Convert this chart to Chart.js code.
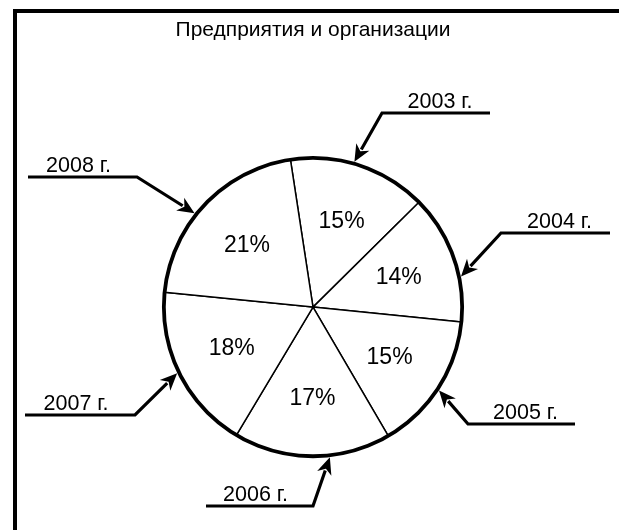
<!DOCTYPE html>
<html>
<head>
<meta charset="utf-8">
<script src="https://cdn.jsdelivr.net/npm/chart.js@4/dist/chart.umd.min.js"></script>
<style>
  html, body { margin: 0; padding: 0; background: #fff; }
  #wrap { width: 619px; height: 530px; position: relative; }
</style>
</head>
<body>
<div id="wrap"><canvas id="pie"></canvas></div>
<script>
// data
const years = ['2003 г.', '2004 г.', '2005 г.', '2006 г.', '2007 г.', '2008 г.'];
const shares = [15, 14, 15, 17, 18, 21];
const chartTitle = 'Предприятия и организации';

// callout placement (tip angle on the circle, elbow, far end of underline)
const callouts = [
    { angle: 15.9,  elbow: [382, 113], end: [490, 113] },
    { angle: 78.3,  elbow: [501, 233], end: [610, 233] },
    { angle: 123.5, elbow: [468, 424], end: [575, 424] },
    { angle: 173.6, elbow: [313, 506], end: [206, 506] },
    { angle: 244,   elbow: [135, 415], end: [25, 415] },
    { angle: 308.4, elbow: [137, 177], end: [28, 177] }
];

const FONT = '"Liberation Sans", Arial, sans-serif';

// white page with the thick frame on the left and top
const framePlugin = {
    id: 'frame',
    beforeDraw(chart) {
        const ctx = chart.ctx;
        ctx.save();
        ctx.fillStyle = '#fff';
        ctx.fillRect(0, 0, chart.width, chart.height);
        ctx.fillStyle = '#000';
        ctx.fillRect(13, 9, 4, chart.height - 9);
        ctx.fillRect(13, 9, chart.width - 13, 4);
        ctx.restore();
    }
};

// thick rim, percent labels and arrow callouts
const decorPlugin = {
    id: 'decor',
    afterDatasetsDraw(chart) {
        const ctx = chart.ctx;
        const arcs = chart.getDatasetMeta(0).data;
        const cx = arcs[0].x, cy = arcs[0].y, r = arcs[0].outerRadius;

        ctx.save();
        ctx.strokeStyle = '#000';
        ctx.lineWidth = 3.8;
        ctx.beginPath();
        ctx.arc(cx, cy, r, 0, Math.PI * 2);
        ctx.stroke();

        // percent labels
        ctx.fillStyle = '#000';
        ctx.font = '23px ' + FONT;
        ctx.textAlign = 'center';
        ctx.textBaseline = 'middle';
        arcs.forEach((arc, i) => {
            const mid = (arc.startAngle + arc.endAngle) / 2;
            const lr = r * 0.61;
            ctx.fillText(shares[i] + '%', cx + Math.cos(mid) * lr, cy + Math.sin(mid) * lr + 1);
        });

        // callouts
        ctx.font = '21.5px ' + FONT;
        ctx.textBaseline = 'alphabetic';
        callouts.forEach((c, i) => {
            const a = (c.angle - 90) * Math.PI / 180;
            const tr = r + 2;
            const tx = cx + Math.cos(a) * tr, ty = cy + Math.sin(a) * tr;
            const [ex, ey] = c.elbow;
            const dir = Math.atan2(ty - ey, tx - ex);
            const headLen = 17, headW = 7.5;
            const bx = tx - Math.cos(dir) * headLen, by = ty - Math.sin(dir) * headLen;

            ctx.lineWidth = 3.2;
            ctx.lineJoin = 'miter';
            ctx.beginPath();
            ctx.moveTo(c.end[0], c.end[1]);
            ctx.lineTo(ex, ey);
            ctx.lineTo(bx + Math.cos(dir) * 3, by + Math.sin(dir) * 3);
            ctx.stroke();

            ctx.beginPath();
            ctx.moveTo(tx, ty);
            ctx.lineTo(bx - Math.sin(dir) * headW, by + Math.cos(dir) * headW);
            ctx.lineTo(bx + Math.cos(dir) * 5, by + Math.sin(dir) * 5);
            ctx.lineTo(bx + Math.sin(dir) * headW, by - Math.cos(dir) * headW);
            ctx.closePath();
            ctx.fill();

            const textX = (ex + c.end[0]) / 2 + (c.end[0] > ex ? 4 : -4);
            ctx.fillText(years[i], textX, ey - 5);
        });
        ctx.restore();
    }
};

new Chart(document.getElementById('pie'), {
    type: 'pie',
    data: {
        labels: years,
        datasets: [{
            data: shares,
            backgroundColor: '#fff',
            borderColor: '#000',
            borderWidth: 1.5,
            borderAlign: 'center'
        }]
    },
    options: {
        responsive: true,
        maintainAspectRatio: false,
        animation: false,
        rotation: -8.7,
        layout: { padding: { left: 163, right: 156, top: 0, bottom: 73 } },
        plugins: {
            legend: { display: false },
            tooltip: { enabled: false },
            title: {
                display: true,
                text: chartTitle,
                color: '#000',
                font: { family: FONT, size: 21, weight: 'normal' },
                padding: { top: 18, bottom: 114 }
            }
        }
    },
    plugins: [framePlugin, decorPlugin]
});
</script>
</body>
</html>
